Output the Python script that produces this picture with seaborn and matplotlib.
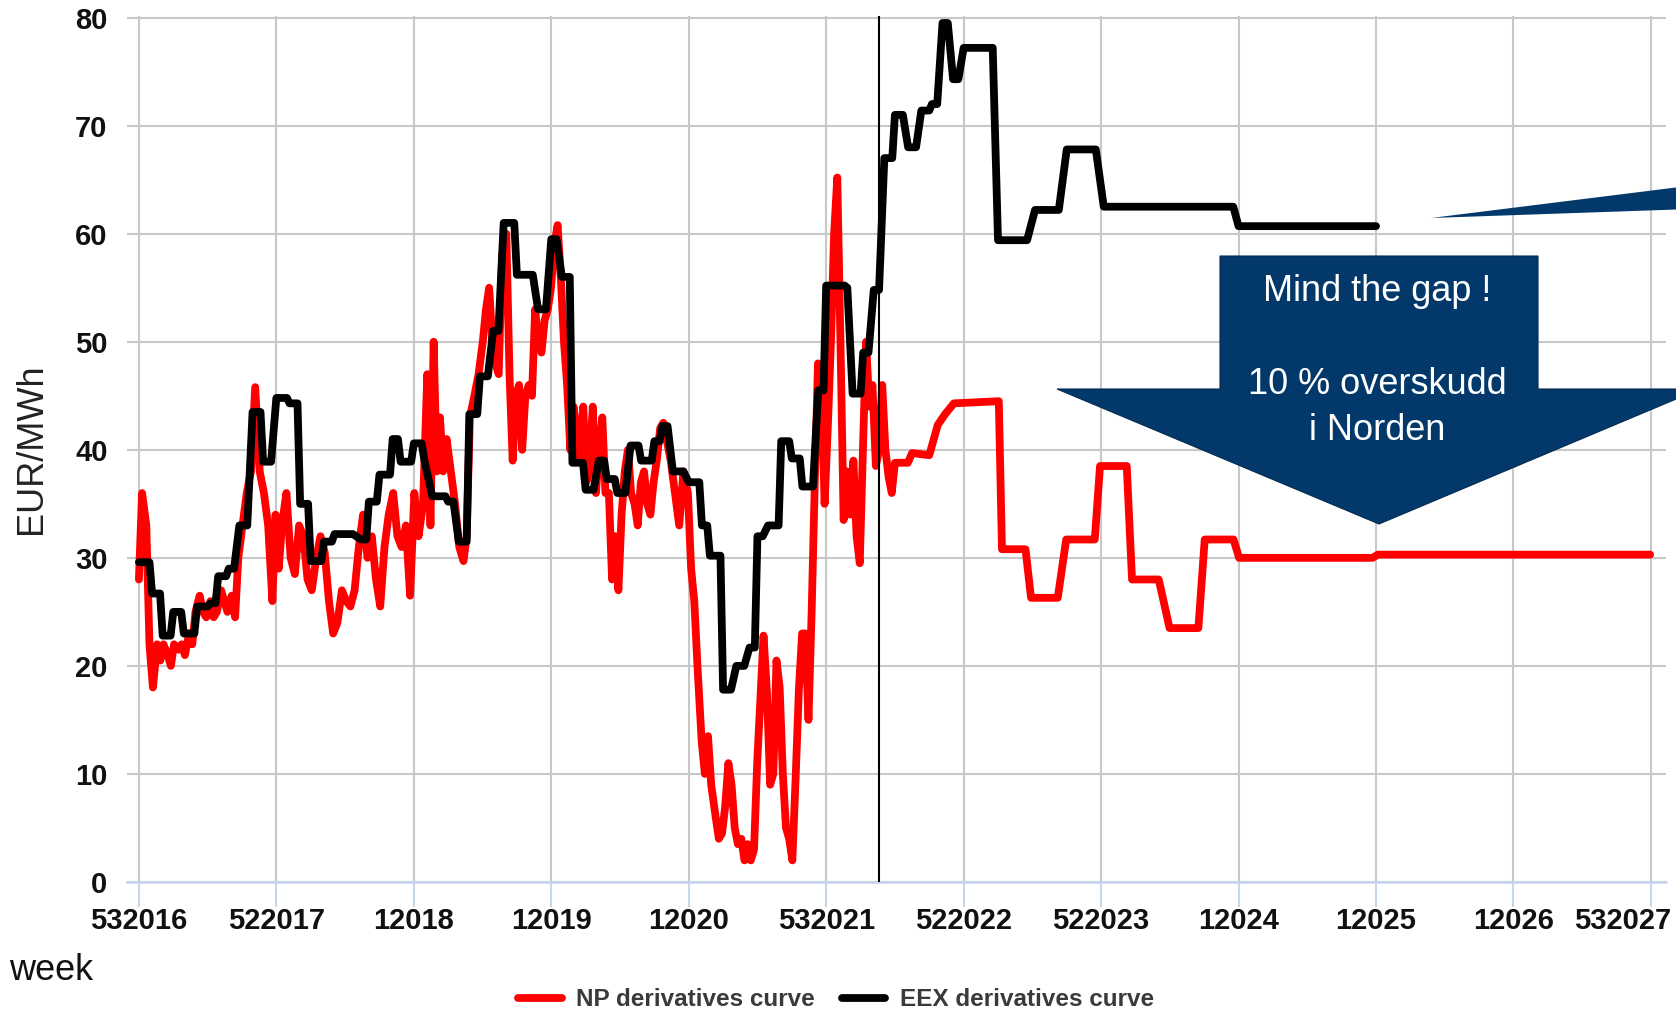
import matplotlib
matplotlib.use("Agg")
import pandas as pd
from matplotlib import pyplot as plt
from matplotlib import transforms as mtransforms
from matplotlib.patches import Polygon
import seaborn as sns

# ---------- Data: x is weeks counted from week 53 / 2016 ----------
tick_labels = [
    "532016", "522017", "12018", "12019", "12020", "532021",
    "522022", "522023", "12024", "12025", "12026", "532027",
]
weeks_per_tick = 52
today_week = 280  # thin vertical marker

eex_weeks = [
    0, 4, 5, 8, 9, 12, 13, 16, 17, 21, 22, 26, 27, 29, 30, 33, 34, 36, 38, 41,
    43, 46, 47, 50, 52, 56, 57, 60, 61, 64, 65, 69, 70, 73, 74, 81, 84, 86, 87, 90,
    91, 95, 96, 98, 99, 103, 104, 107, 108, 111, 116, 117, 119, 121, 124, 125, 128,
    129, 132, 134, 136, 138, 142, 143, 149, 151, 154, 156, 158, 160, 163, 164, 168,
    169, 172, 174, 176, 177, 180, 181, 184, 186, 189, 190, 194, 195, 197, 198, 200,
    202, 206, 208, 212, 213, 215, 216, 220, 221, 224, 226, 229, 231, 233, 234, 236,
    238, 242, 243, 246, 247, 250, 251, 255, 257, 259, 260, 267, 268, 270, 273, 274,
    276, 278, 280, 282, 285, 286, 289, 291, 294, 296, 299, 300, 302, 304, 306, 308,
    310, 312, 323, 325, 336, 339, 348, 351, 362, 365, 414, 416, 468,
]
eex_values = [
    29.6, 29.6, 26.7, 26.7, 22.8, 22.8, 25, 25, 23, 23, 25.5, 25.5, 25.8, 25.8,
    28.3, 28.3, 29, 29, 33, 33, 43.5, 43.5, 38.9, 38.9, 44.8, 44.8, 44.3, 44.3,
    35, 35, 29.7, 29.7, 31.5, 31.5, 32.2, 32.2, 31.7, 31.7, 35.2, 35.2, 37.7, 37.7,
    41, 41, 38.9, 38.9, 40.6, 40.6, 39, 35.7, 35.7, 35.2, 35.2, 31.5, 31.5, 43.3,
    43.3, 46.8, 46.8, 51, 51, 61, 61, 56.2, 56.2, 53, 53, 59.5, 59.5, 56, 56,
    38.8, 38.8, 36.3, 36.3, 39, 39, 37.3, 37.3, 36, 36, 40.4, 40.4, 39, 39,
    40.8, 40.8, 42.2, 42.2, 38, 38, 37, 37, 33, 33, 30.2, 30.2, 17.8, 17.8,
    20, 20, 21.7, 21.7, 32, 32, 33, 33, 40.8, 40.8, 39.2, 39.2, 36.6, 36.6,
    45.5, 45.5, 55.2, 55.2, 55, 45.2, 45.2, 49, 49, 54.8, 54.8, 67, 67, 71, 71,
    68, 68, 71.4, 71.4, 72, 72, 79.5, 79.5, 74.3, 74.3, 77.2, 77.2, 59.4, 59.4,
    62.2, 62.2, 67.8, 67.8, 62.5, 62.5, 60.7, 60.7,
]

np_weeks = [
    0, 1.2, 2.8, 4, 5.3, 6.9, 8.1, 9.3, 10.9, 12.1,
    13.3, 15, 16.2, 17.4, 19, 20.2, 21.4, 23, 24.2, 25.5,
    27.1, 28.3, 29.5, 31.1, 32.3, 33.5, 35.1, 36.4, 37.6, 39.2,
    40.8, 42.4, 44, 45.7, 47.3, 48.9, 50.5, 51.7, 52.9, 54.1,
    55.8, 57.4, 59, 60.6, 62.2, 63.8, 65.4, 67.1, 68.7, 70.3,
    71.9, 73.5, 75.1, 76.8, 78.4, 80, 81.6, 83.2, 84.8, 86.5,
    88.1, 89.7, 91.3, 92.9, 94.5, 96.2, 97.8, 99.4, 101, 102.6,
    104.2, 105.8, 107.5, 109.1, 110.3, 111.5, 112.7, 113.9, 115.1, 116.4,
    118, 119.6, 121.2, 122.8, 124, 125.2, 126.9, 128.5, 130.1, 131.3,
    132.5, 133.7, 134.9, 136.1, 137.4, 139, 140.2, 141.4, 142.6, 143.8,
    145, 146.2, 147.5, 148.7, 149.9, 151.1, 152.3, 153.5, 154.7, 155.9,
    157.2, 158.4, 159.6, 160.8, 162, 163.2, 164.4, 165.6, 166.9, 168.1,
    169.3, 170.5, 171.7, 172.9, 174.1, 175.3, 176.5, 177.8, 179, 180.2,
    181.4, 182.6, 183.8, 185, 186.2, 187.5, 188.7, 189.9, 191.1, 192.3,
    193.5, 194.7, 195.9, 197.2, 198.4, 199.6, 201.2, 202.8, 204.4, 206,
    207.7, 208.9, 210.1, 211.3, 212.9, 214.1, 215.3, 216.5, 218.2, 219.4,
    220.6, 221.8, 223, 224.2, 225.4, 226.6, 227.9, 229.1, 230.3, 231.5,
    232.7, 233.9, 235.1, 236.3, 237.6, 238.8, 240, 241.2, 242.4, 243.6,
    244.8, 246, 247.2, 248.5, 249.7, 250.9, 252.1, 253.3, 254.5, 255.7,
    256.9, 258.2, 259.4, 260.6, 261.8, 263, 264.2, 265.4, 266.6, 267.9,
    269.1, 270.3, 271.5, 272.7, 273.9, 275.1, 276.3, 277.5, 278.8, 280,
    281.2, 282.4, 283.6, 284.8, 286, 290.9, 292.5, 299, 302.2, 305,
    308.3, 325.3, 326.5, 335.4, 337.5, 347.6, 350.8, 361.6, 363.6, 373.7,
    375.7, 385.8, 389.9, 400.8, 403.2, 414.1, 416.2, 466.7, 468.7, 571.7,
]
np_values = [
    28, 36, 33, 22, 18, 22, 20.5, 22, 21, 20,
    22, 21.5, 22, 21, 23, 22, 25, 26.5, 25, 24.5,
    26, 24.5, 25, 27, 26, 25, 26.5, 24.5, 30, 33,
    36, 38, 45.8, 38, 36, 33, 26, 34, 29, 33,
    36, 30, 28.5, 33, 32, 28, 27, 30, 32, 30.5,
    26, 23, 24, 27, 26, 25.5, 27, 31, 34, 30,
    32, 28, 25.5, 31, 34, 36, 32, 31, 33, 26.5,
    36, 32, 35, 47, 33, 50, 38, 43, 38, 41,
    38, 35, 31, 29.7, 32, 43, 45, 47, 50, 53,
    55, 50, 48, 47, 58, 60, 47, 39, 45, 46,
    40, 45, 46, 45, 53, 50, 49, 52, 53, 55,
    59, 60.8, 56, 50, 46, 40, 44, 42, 39, 44,
    37, 38.5, 44, 36, 40, 43, 36, 36, 28, 32,
    27, 34, 38, 40, 36, 35, 33, 37, 38, 35,
    34, 37, 39, 42, 42.5, 41, 39, 36, 33, 38,
    36, 29, 26, 20, 13, 10, 13.5, 9, 6, 4,
    4.5, 7, 11, 9, 5, 3.5, 4, 2, 3.5, 2,
    3, 11, 17, 22.8, 17.5, 9, 10, 20.5, 18, 10,
    5, 4, 2, 10, 18, 23, 23, 15, 25, 37,
    48, 46, 35, 42, 50, 60, 65.2, 50, 33.5, 38,
    34, 39, 32, 29.5, 40, 50, 44, 46, 38.5, 40,
    46, 40, 37.5, 36, 38.8, 38.8, 39.7, 39.5, 42.3, 43.3,
    44.3, 44.5, 30.8, 30.8, 26.3, 26.3, 31.7, 31.7, 38.5, 38.5,
    28, 28, 23.5, 23.5, 31.7, 31.7, 30, 30, 30.3, 30.3,
]

np_label = "NP derivatives curve"
eex_label = "EEX derivatives curve"
callout_lines = ["Mind the gap !", "", "10 % overskudd", "i Norden"]

df = pd.concat(
    [
        pd.DataFrame({"week": np_weeks, "price": np_values, "curve": np_label}),
        pd.DataFrame({"week": eex_weeks, "price": eex_values, "curve": eex_label}),
    ],
    ignore_index=True,
)

# ---------- Figure ----------
sns.set_theme(style="whitegrid")
plt.rcParams["font.family"] = ["Liberation Sans", "DejaVu Sans"]

W, H = 1676, 1015
fig = plt.figure(figsize=(W / 100, H / 100), dpi=100)


def fpx(x, y):
    """pixel position (from top left) -> figure fraction"""
    return (x / W, 1 - y / H)


ax = fig.add_axes([127 / W, 1 - 882 / H, (1666 - 127) / W, (882 - 16) / H])
ax.set_facecolor("white")

sns.lineplot(
    data=df,
    x="week",
    y="price",
    hue="curve",
    hue_order=[np_label, eex_label],
    palette={np_label: "#ff0000", eex_label: "#000000"},
    estimator=None,
    linewidth=5.6,
    ax=ax,
)
for line in ax.get_lines():
    line.set_solid_joinstyle("round")
    line.set_solid_capstyle("round")

ax.axvline(today_week, color="black", linewidth=1.5, zorder=5)

n_ticks = len(tick_labels)
ax.set_xticks([i * weeks_per_tick for i in range(n_ticks)])
ax.set_xticklabels(tick_labels)
ax.set_yticks(range(0, 81, 10))
ax.set_xlim(-4.5, 577.7)
ax.set_ylim(0, 80.15)
ax.set_xlabel("")
ax.set_ylabel("")

ax.grid(True, color="#c8c8c8", linewidth=1.5)
for side in ["left", "right", "top"]:
    ax.spines[side].set_visible(False)
ax.spines["bottom"].set_color("#c6d4ee")
ax.spines["bottom"].set_linewidth(1.8)
ax.spines["bottom"].set_zorder(3)

ax.tick_params(axis="x", length=18, width=1.5, color="#c6d4ee", pad=0,
               labelsize=21, bottom=True)
ax.tick_params(axis="y", length=0, pad=14, labelsize=21)
for lab in ax.get_xticklabels() + ax.get_yticklabels():
    lab.set_fontweight("bold")
    lab.set_color("#111111")

# last week label is pushed left so it stays inside the picture
last_label = ax.xaxis.get_major_ticks()[-1].label1
last_label.set_transform(
    last_label.get_transform()
    + mtransforms.ScaledTranslation(-0.28, 0, fig.dpi_scale_trans)
)

fig.text(*fpx(32, 449), "EUR/MWh", rotation=90, ha="center", va="center",
         fontsize=26, color="#222222")
fig.text(*fpx(9, 970), "week", ha="left", va="center", fontsize=26,
         color="#111111")

# legend at the bottom, partly cut by the picture edge (as in the source)
handles, labels = ax.get_legend_handles_labels()
ax.get_legend().remove()
fig.legend(
    handles,
    labels,
    loc="center",
    bbox_to_anchor=fpx(836, 1000),
    ncol=2,
    frameon=False,
    handlelength=1.8,
    handletextpad=0.6,
    columnspacing=1.1,
    prop={"weight": "bold", "size": 17.5},
    labelcolor="#3a3a3a",
)

# ---------- "Mind the gap" callout ----------
navy = "#03396a"
arrow_px = [(1220, 256), (1538, 256), (1538, 389), (1700, 389),
            (1379, 524), (1057, 389), (1220, 389)]
fig.patches.append(Polygon([fpx(*p) for p in arrow_px], closed=True,
                           transform=fig.transFigure, facecolor=navy,
                           edgecolor="#022a50", linewidth=0.8, zorder=10))
wedge_px = [(1431, 218), (1720, 182), (1720, 208)]
fig.patches.append(Polygon([fpx(*p) for p in wedge_px], closed=True,
                           transform=fig.transFigure, facecolor=navy,
                           edgecolor="none", zorder=10))
fig.text(*fpx(1377, 361), "\n".join(callout_lines), ha="center", va="center",
         fontsize=26, color="white", linespacing=1.42, zorder=11)

fig.savefig("out.png", dpi=100)
